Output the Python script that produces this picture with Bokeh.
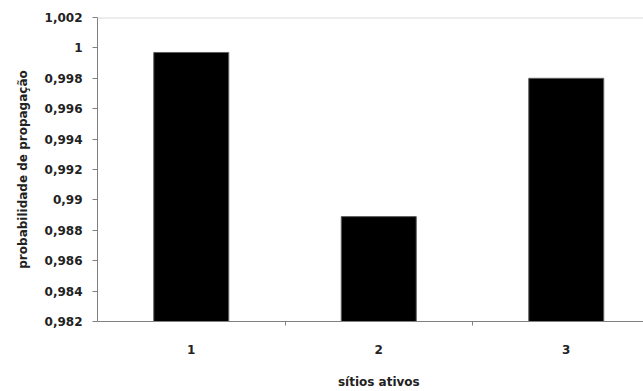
from bokeh.plotting import figure
from bokeh.models import FixedTicker, CustomJSTickFormatter, Span, ColumnDataSource
from bokeh.embed import file_html
from bokeh.resources import INLINE

# data
sites = [1, 2, 3]
probabilities = [0.9997, 0.9889, 0.9980]
y_ticks = [0.982, 0.984, 0.986, 0.988, 0.99, 0.992, 0.994, 0.996, 0.998, 1.0, 1.002]
x_labels = ["1", "2", "3"]
y_label = "probabilidade de propagação"
x_label = "sítios ativos"

FONT = "DejaVu Sans"
src = ColumnDataSource(dict(x=sites, top=probabilities))

p = figure(width=643, height=391, output_backend="svg", toolbar_location=None,
           x_range=(0.5, 3.412), y_range=(0.982, 1.002),
           min_border_left=97, min_border_right=0, min_border_top=17, min_border_bottom=70)
p.vbar(x="x", top="top", bottom=0.982, width=0.4, source=src,
       fill_color="black", line_color="#606060", line_width=1)

p.xgrid.visible = False
p.ygrid.visible = False
p.outline_line_color = None
p.add_layout(Span(location=1.002, dimension="width", line_color="#d9d9d9", line_width=2))

# x axis
xa = p.xaxis[0]
xa.ticker = FixedTicker(ticks=sites, minor_ticks=[1.5, 2.5])
xa.major_label_overrides = {s: l for s, l in zip(sites, x_labels)}
xa.major_tick_out = 0
xa.major_tick_in = 0
xa.minor_tick_out = 4
xa.minor_tick_in = 0
xa.minor_tick_line_color = "#808080"
xa.axis_line_color = "#808080"
xa.major_label_standoff = 19
xa.major_label_text_font = FONT
xa.major_label_text_font_style = "bold"
xa.major_label_text_font_size = "12px"
xa.major_label_text_color = "#222222"
# leading no-break spaces nudge the title under category 2 (frame is cut at the right)
xa.axis_label = "\u00a0" * 4 + x_label
xa.axis_label_standoff = 18
xa.axis_label_text_font = FONT
xa.axis_label_text_font_style = "bold"
xa.axis_label_text_font_size = "12px"
xa.axis_label_text_color = "#222222"

# y axis
ya = p.yaxis[0]
ya.ticker = FixedTicker(ticks=y_ticks)
ya.formatter = CustomJSTickFormatter(code="""
let s = tick.toFixed(3).replace(/0+$/, '').replace(/\\.$/, '');
return s.replace('.', ',');
""")
ya.major_tick_out = 5
ya.major_tick_in = 0
ya.minor_tick_out = 0
ya.minor_tick_in = 0
ya.major_tick_line_color = "#808080"
ya.axis_line_color = "#808080"
ya.major_label_standoff = 10
ya.major_label_text_font = FONT
ya.major_label_text_font_style = "bold"
ya.major_label_text_font_size = "12px"
ya.major_label_text_color = "#222222"
ya.axis_label = y_label
ya.axis_label_text_font = FONT
ya.axis_label_text_font_style = "bold"
ya.axis_label_text_font_size = "12px"
ya.axis_label_text_color = "#222222"
ya.axis_label_standoff = 12

open("out.html", "w").write(file_html(p, INLINE))
